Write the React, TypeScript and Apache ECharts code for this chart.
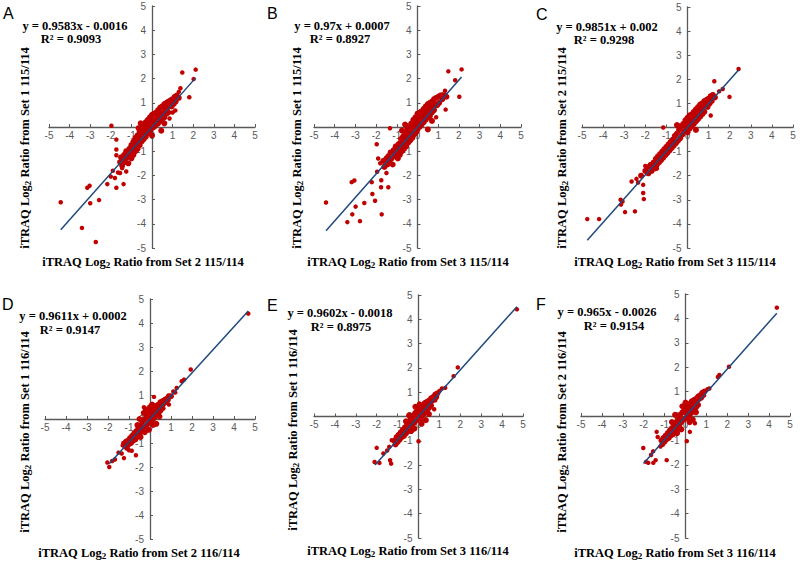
import React, { useEffect, useRef } from "react";
import * as echarts from "echarts";

const panelLetters = ["A", "B", "C", "D", "E", "F"];
const equations = [
  "y = 0.9583x - 0.0016",
  "y = 0.97x + 0.0007",
  "y = 0.9851x + 0.002",
  "y = 0.9611x + 0.0002",
  "y = 0.9602x - 0.0018",
  "y = 0.965x - 0.0026",
];
const rSquared = ["R² = 0.9093", "R² = 0.8927", "R² = 0.9298", "R² = 0.9147", "R² = 0.8975", "R² = 0.9154"];
const slopes = [0.9583, 0.97, 0.9851, 0.9611, 0.9602, 0.965];
const intercepts = [-0.0016, 0.0007, 0.002, 0.0002, -0.0018, -0.0026];
const lineStartX = [-4.43, -4.42, -4.75, -1.94, -2.08, -2.01];
const lineEndX = [2.12, 2.13, 2.42, 4.68, 4.71, 4.37];
const xSets = ["2", "3", "3", "2", "3", "3"];
const ySets = ["1", "1", "2", "1", "1", "2"];
const ratios = ["115/114", "115/114", "115/114", "116/114", "116/114", "116/114"];
const axisMin = -5;
const axisMax = 5;
const axisStep = 1;

const outA = [[2.12,2.37],[1.47,2.25],[2.02,1.98],[1.38,1.6],[1.81,1.23],[1.13,0.68],[1.3,1.45],[-1.97,0.05],[-1.73,-0.52],[-1.73,-0.93],[-4.43,-3.11],[-3.14,-2.51],[-3.03,-2.43],[-3.0,-3.15],[-2.57,-3.02],[-3.4,-4.17],[-2.73,-4.75],[-2.17,-2.36],[-1.8,-2.11],[-1.73,-2.51],[-1.38,-2.36],[-1.9,-1.81],[-1.65,-1.88],[-1.25,-1.84],[-1.28,-1.47],[-2.0,-2.05],[-1.55,-1.9],[-1.45,-1.7],[0.85,0.35],[1.0,0.6],[-1.73,-1.17],[-1.5,-1.3]];
const outB = [[2.13,2.38],[1.49,2.3],[1.82,1.93],[2.02,1.25],[1.36,0.72],[1.33,1.5],[1.2,1.35],[-4.42,-3.12],[-3.18,-2.28],[-3.05,-2.21],[-2.99,-3.29],[-3.15,-3.61],[-3.39,-3.93],[-2.78,-3.89],[-2.57,-3.14],[-2.18,-2.77],[-2.21,-2.28],[-2.05,-3.05],[-1.73,-3.61],[-1.76,-2.49],[-1.41,-2.49],[-1.97,-0.71],[-1.33,-0.05],[-1.95,-1.85],[-1.75,-2.2],[-1.6,-1.6],[-1.5,-1.9],[-1.8,-1.5],[-1.9,-1.3],[0.9,0.4]];
const outC = [[2.42,2.43],[1.27,1.92],[1.99,1.27],[1.67,1.6],[1.5,1.5],[1.2,1.35],[-1.15,0.0],[-4.75,-3.8],[-4.19,-3.8],[-3.17,-3.0],[-3.08,-3.07],[-2.96,-3.51],[-2.49,-3.48],[-2.42,-2.13],[-2.34,-2.28],[-2.1,-2.72],[-2.07,-2.97],[-2.1,-2.38],[-2.65,-2.24],[-3.15,-3.2],[-1.9,-1.9],[-2.0,-1.6],[-1.7,-1.75],[-1.6,-1.45],[-1.45,-1.7],[1.1,0.5]];
const outD = [[4.68,4.39],[1.94,2.06],[1.51,1.57],[1.62,1.64],[1.11,1.15],[1.27,1.29],[1.2,1.1],[0.19,0.92],[-0.29,0.49],[-1.94,-2.0],[-2.03,-1.81],[-1.67,-1.69],[-1.35,-1.44],[-1.24,-1.63],[-0.67,-1.51],[-0.87,-1.32],[-1.27,-1.0],[-1.5,-1.4],[-1.8,-1.75],[0.9,0.6],[-1.3,-1.1],[-1.0,-1.3]];
const outE = [[4.71,4.41],[1.88,2.02],[1.68,1.66],[1.28,1.18],[1.12,1.15],[0.8,0.67],[0.0,-1.02],[-2.0,-1.29],[-1.87,-1.91],[-2.1,-1.87],[-1.36,-1.8],[-1.31,-1.94],[-1.28,-0.98],[-1.68,-1.52],[-1.5,-1.4],[-1.4,-1.25],[1.0,1.05],[0.75,0.3]];
const outF = [[4.37,4.44],[2.08,2.02],[1.62,1.68],[1.55,1.6],[1.14,1.13],[1.05,1.1],[0.06,-1.03],[0.21,-0.65],[-2.02,-1.31],[-1.78,-1.92],[-1.89,-1.88],[-1.54,-1.92],[-1.43,-1.81],[-0.9,-1.81],[-1.38,-0.65],[-1.33,-0.86],[-1.55,-1.45],[-1.2,-1.25],[-1.65,-1.6],[0.45,-0.3]];

const coreA = [[-1.55,-1.45],[-1.5,-1.25],[-1.45,-1.6],[-1.4,-1.35],[-1.35,-1.15],[-1.3,-1.45],[-1.25,-1.0],[-1.2,-1.25],[-1.15,-1.5],[-1.1,-0.9],[-1.05,-1.15],[-1.0,-0.75],[-1.0,-1.3],[-0.95,-0.95],[-0.9,-0.6],[-0.9,-1.15],[-0.85,-0.85],[-0.8,-0.45],[-0.8,-1.0],[-0.75,-0.7],[-0.7,-0.35],[-0.7,-0.9],[-0.65,-0.55],[-0.6,-0.2],[-0.6,-0.75],[-0.55,-0.4],[-0.5,-0.05],[-0.5,-0.6],[-0.45,-0.3],[-0.4,0.05],[-0.4,-0.5],[-0.35,-0.15],[-0.3,0.2],[-0.3,-0.4],[-0.25,0.0],[-0.2,0.3],[-0.2,-0.25],[-0.15,0.1],[-0.1,0.4],[-0.1,-0.15],[-0.05,0.2],[0.0,0.5],[0.0,-0.05],[0.0,-0.35],[0.05,0.25],[0.1,0.55],[0.1,0.0],[0.15,0.3],[0.2,0.6],[0.2,0.1],[0.25,0.4],[0.3,0.7],[0.3,0.15],[0.35,0.45],[0.4,0.8],[0.4,0.25],[0.45,0.55],[0.5,0.85],[0.5,0.35],[0.55,0.6],[0.6,0.95],[0.6,0.4],[0.65,0.7],[0.7,1.0],[0.7,0.55],[0.75,0.8],[0.8,1.05],[0.8,0.6],[0.85,0.9],[0.9,1.1],[0.95,0.85],[1.0,1.15],[1.05,0.95],[1.1,1.25],[1.15,1.05],[1.2,1.3],[1.3,1.2],[-0.55,0.15],[0.45,-0.15],[0.6,0.15],[-0.65,-0.05]];
const coreB = [[-1.65,-1.4],[-1.6,-1.65],[-1.5,-1.3],[-1.45,-1.55],[-1.4,-1.2],[-1.35,-1.45],[-1.3,-1.05],[-1.25,-1.3],[-1.2,-1.55],[-1.15,-0.95],[-1.1,-1.2],[-1.05,-0.8],[-1.0,-1.05],[-0.95,-1.3],[-0.9,-0.7],[-0.9,-0.95],[-0.85,-1.15],[-0.8,-0.5],[-0.8,-0.8],[-0.75,-1.0],[-0.7,-0.4],[-0.7,-0.7],[-0.65,-0.9],[-0.6,-0.25],[-0.6,-0.55],[-0.55,-0.8],[-0.5,-0.1],[-0.5,-0.45],[-0.45,-0.65],[-0.4,0.0],[-0.4,-0.3],[-0.35,-0.55],[-0.3,0.15],[-0.3,-0.2],[-0.25,-0.45],[-0.2,0.3],[-0.2,0.0],[-0.15,-0.3],[-0.1,0.4],[-0.1,0.1],[-0.05,-0.2],[0.0,0.55],[0.0,0.2],[0.0,-0.1],[0.05,0.35],[0.1,0.6],[0.1,0.0],[0.15,0.25],[0.2,0.65],[0.2,0.1],[0.25,0.45],[0.3,0.75],[0.3,0.2],[0.35,0.5],[0.4,0.85],[0.4,0.3],[0.45,0.6],[0.5,0.95],[0.5,0.4],[0.55,0.7],[0.6,1.0],[0.6,0.45],[0.65,0.8],[0.7,1.05],[0.7,0.6],[0.75,0.85],[0.8,1.15],[0.8,0.7],[0.85,0.95],[0.9,1.2],[0.95,0.9],[1.0,1.25],[1.05,1.0],[1.1,1.3],[1.2,1.15],[1.3,1.3],[1.4,1.25],[-0.6,0.1],[0.5,-0.1],[0.7,0.25],[-0.75,-0.15]];
const coreC = [[-2.0,-1.8],[-1.9,-1.65],[-1.85,-1.9],[-1.75,-1.55],[-1.7,-1.8],[-1.6,-1.45],[-1.55,-1.7],[-1.5,-1.3],[-1.45,-1.55],[-1.4,-1.2],[-1.35,-1.45],[-1.3,-1.1],[-1.25,-1.35],[-1.2,-1.0],[-1.15,-1.25],[-1.1,-0.9],[-1.05,-1.15],[-1.0,-0.8],[-0.95,-1.05],[-0.9,-0.7],[-0.85,-0.95],[-0.8,-0.6],[-0.75,-0.85],[-0.7,-0.5],[-0.65,-0.75],[-0.6,-0.35],[-0.55,-0.65],[-0.5,-0.25],[-0.45,-0.55],[-0.4,-0.1],[-0.35,-0.45],[-0.3,0.05],[-0.25,-0.3],[-0.2,0.15],[-0.15,-0.15],[-0.1,0.3],[-0.05,0.0],[0.0,0.4],[0.0,-0.2],[0.05,0.15],[0.1,0.5],[0.1,-0.05],[0.15,0.3],[0.2,0.55],[0.2,0.05],[0.25,0.35],[0.3,0.65],[0.3,0.15],[0.35,0.45],[0.4,0.75],[0.4,0.25],[0.45,0.55],[0.5,0.85],[0.5,0.35],[0.55,0.65],[0.6,0.95],[0.6,0.45],[0.65,0.75],[0.7,1.0],[0.7,0.55],[0.75,0.85],[0.8,1.1],[0.8,0.65],[0.85,0.95],[0.9,1.15],[0.95,0.85],[1.0,1.2],[1.05,1.0],[1.1,1.3],[1.15,1.1],[1.2,1.35],[1.3,1.25],[-0.5,0.1],[0.4,-0.1],[-2.2,-2.0]];
const coreD = [[-1.2,-1.1],[-1.15,-0.95],[-1.1,-1.2],[-1.05,-0.9],[-1.0,-1.05],[-0.95,-0.8],[-0.9,-1.0],[-0.85,-0.7],[-0.8,-0.9],[-0.75,-0.6],[-0.7,-0.85],[-0.65,-0.5],[-0.6,-0.75],[-0.55,-0.35],[-0.5,-0.65],[-0.45,-0.25],[-0.4,-0.5],[-0.35,-0.1],[-0.3,-0.4],[-0.25,0.0],[-0.2,-0.3],[-0.15,0.1],[-0.1,-0.2],[-0.05,0.25],[0.0,-0.1],[0.0,0.35],[0.05,0.1],[0.1,0.4],[0.1,-0.05],[0.15,0.2],[0.2,0.45],[0.2,0.05],[0.25,0.3],[0.3,0.55],[0.3,0.15],[0.35,0.4],[0.4,0.6],[0.4,0.25],[0.45,0.5],[0.5,0.7],[0.5,0.35],[0.55,0.55],[0.6,0.75],[0.6,0.45],[0.65,0.65],[0.7,0.8],[0.75,0.7],[0.8,0.85],[0.85,0.8],[0.9,0.95],[1.0,0.95],[-0.5,0.0],[0.3,-0.2],[-0.3,0.25],[-0.45,-0.75],[-0.2,0.4],[0.0,0.5],[0.15,-0.25],[-0.25,-0.55],[0.45,0.1],[-0.6,-0.25],[0.1,0.6],[-0.05,-0.45]];
const coreE = [[-1.15,-1.0],[-1.1,-1.15],[-1.05,-0.85],[-1.0,-1.05],[-0.95,-0.75],[-0.9,-0.95],[-0.85,-0.65],[-0.8,-0.85],[-0.75,-0.55],[-0.7,-0.8],[-0.65,-0.45],[-0.6,-0.7],[-0.55,-0.3],[-0.5,-0.6],[-0.45,-0.2],[-0.4,-0.45],[-0.35,-0.1],[-0.3,-0.35],[-0.25,0.05],[-0.2,-0.25],[-0.15,0.15],[-0.1,-0.15],[-0.05,0.25],[0.0,-0.05],[0.0,0.35],[0.05,0.1],[0.1,0.4],[0.1,-0.1],[0.15,0.2],[0.2,0.45],[0.2,0.05],[0.25,0.3],[0.3,0.55],[0.3,0.15],[0.35,0.4],[0.4,0.6],[0.4,0.25],[0.45,0.5],[0.5,0.65],[0.5,0.35],[0.55,0.55],[0.6,0.75],[0.6,0.45],[0.65,0.65],[0.7,0.8],[0.75,0.7],[0.8,0.9],[0.85,0.8],[0.9,0.95],[-0.45,0.05],[0.35,-0.15],[-0.35,-0.6],[-0.15,0.4],[0.05,0.5],[0.15,-0.3],[-0.2,-0.5],[0.5,0.1],[-0.6,-0.2]];
const coreF = [[-1.15,-1.0],[-1.1,-1.15],[-1.05,-0.9],[-1.0,-1.05],[-0.95,-0.8],[-0.9,-0.95],[-0.85,-0.7],[-0.8,-0.9],[-0.75,-0.6],[-0.7,-0.8],[-0.65,-0.5],[-0.6,-0.75],[-0.55,-0.35],[-0.5,-0.6],[-0.45,-0.25],[-0.4,-0.5],[-0.35,-0.1],[-0.3,-0.4],[-0.25,0.05],[-0.2,-0.25],[-0.15,0.15],[-0.1,-0.15],[-0.05,0.25],[0.0,-0.1],[0.0,0.4],[0.05,0.1],[0.1,0.45],[0.1,-0.05],[0.15,0.25],[0.2,0.5],[0.2,0.05],[0.25,0.3],[0.3,0.6],[0.3,0.15],[0.35,0.45],[0.4,0.65],[0.4,0.25],[0.45,0.5],[0.5,0.7],[0.5,0.35],[0.55,0.6],[0.6,0.8],[0.6,0.45],[0.65,0.7],[0.7,0.85],[0.75,0.75],[0.8,0.95],[0.85,0.85],[0.9,1.0],[-0.5,0.05],[0.35,-0.15],[-0.4,-0.7],[-0.15,0.4],[0.0,0.55],[0.2,-0.25],[-0.2,-0.55],[0.5,0.15],[-0.65,-0.25]];

const outliers = [outA, outB, outC, outD, outE, outF];
const cores = [coreA, coreB, coreC, coreD, coreE, coreF];

// layout (pixels)
const grids = [
  { left: 49, top: 6, width: 206, height: 242 },
  { left: 314, top: 6, width: 207, height: 242 },
  { left: 582, top: 7, width: 211, height: 241 },
  { left: 45, top: 299, width: 210, height: 240 },
  { left: 314, top: 295, width: 209, height: 243 },
  { left: 581, top: 294, width: 209, height: 244 },
];
const letterPos = [[3, 5], [267, 5], [536, 6], [2, 296], [267, 297], [536, 296]];
const eqPos = [[75, 26], [342, 26], [607, 27], [73, 316], [340, 313], [607, 312]];
const r2Pos = [[71, 39], [340, 39], [604, 40], [70, 330], [341, 327], [614, 326]];
const xTitlePos = [[143, 262], [408, 262], [675, 262], [139, 553], [408, 551], [675, 553]];
const yTitlePos = [[25, 148], [297, 148], [562, 148], [25, 432], [293, 430], [562, 432]];

const AXIS_COLOR = "#595959";
const POINT_COLOR = "#c00000";
const LINE_COLOR = "#1f497d";
const SERIF = '"Liberation Serif", "Times New Roman", serif';
const SANS = '"Liberation Sans", Arial, sans-serif';

function axisCommon(i: number, isX: boolean) {
  const g = grids[i];
  const span = axisMax - axisMin;
  // place each axis line where the other axis has value 0
  const offset = isX ? -g.height * ((0 - axisMin) / span) : -g.width * ((0 - axisMin) / span);
  return {
    gridIndex: i,
    type: "value",
    position: isX ? "bottom" : "left",
    offset,
    min: axisMin,
    max: axisMax,
    interval: axisStep,
    splitLine: { show: false },
    axisLine: { show: true, onZero: false, lineStyle: { color: AXIS_COLOR, width: 1.3 } },
    axisTick: { show: true, inside: true, length: 3, lineStyle: { color: AXIS_COLOR, width: 1 } },
    axisLabel: { fontSize: 10, color: AXIS_COLOR, fontFamily: SANS, margin: isX ? 3 : 6 },
  };
}

function titleText(set: string, ratio: string) {
  return `iTRAQ Log{s|2} Ratio from Set ${set} ${ratio}`;
}

const titleStyleBase = {
  fontFamily: SERIF,
  fontWeight: "bold",
  fontSize: 12.5,
  fill: "#000",
  align: "center",
  verticalAlign: "middle",
  lineHeight: 14,
  rich: {
    s: { fontFamily: SERIF, fontWeight: "bold", fontSize: 9, lineHeight: 14, verticalAlign: "bottom", padding: [4, 0, 0, 0], fill: "#000" },
  },
};

export default function App() {
  const ref = useRef<HTMLDivElement>(null);
  useEffect(() => {
    if (!ref.current) return;
    const chart = echarts.init(ref.current, null, { renderer: "svg" });
    const series: any[] = [];
    const graphic: any[] = [];
    for (let i = 0; i < 6; i++) {
      series.push({
        type: "scatter",
        xAxisIndex: i,
        yAxisIndex: i,
        data: cores[i],
        symbolSize: 6,
        itemStyle: { color: POINT_COLOR, opacity: 1 },
        z: 2,
      });
      series.push({
        type: "scatter",
        xAxisIndex: i,
        yAxisIndex: i,
        data: outliers[i],
        symbolSize: 4.5,
        itemStyle: { color: POINT_COLOR, opacity: 1 },
        z: 2,
      });
      const x0 = lineStartX[i];
      const x1 = lineEndX[i];
      series.push({
        type: "line",
        xAxisIndex: i,
        yAxisIndex: i,
        data: [
          [x0, slopes[i] * x0 + intercepts[i]],
          [x1, slopes[i] * x1 + intercepts[i]],
        ],
        showSymbol: false,
        symbol: "none",
        lineStyle: { color: LINE_COLOR, width: 1.5 },
        z: 3,
      });
      graphic.push({
        type: "text",
        x: letterPos[i][0],
        y: letterPos[i][1],
        style: { text: panelLetters[i], fontFamily: SANS, fontSize: 16, fill: "#000", align: "left", verticalAlign: "top" },
      });
      graphic.push({
        type: "text",
        x: eqPos[i][0],
        y: eqPos[i][1],
        style: { text: equations[i], fontFamily: SERIF, fontWeight: "bold", fontSize: 12.5, lineHeight: 12, fill: "#000", align: "center", verticalAlign: "middle" },
      });
      graphic.push({
        type: "text",
        x: r2Pos[i][0],
        y: r2Pos[i][1],
        style: { text: rSquared[i], fontFamily: SERIF, fontWeight: "bold", fontSize: 12.5, lineHeight: 12, fill: "#000", align: "center", verticalAlign: "middle" },
      });
      graphic.push({
        type: "text",
        x: xTitlePos[i][0],
        y: xTitlePos[i][1],
        style: { ...titleStyleBase, text: titleText(xSets[i], ratios[i]) },
      });
      graphic.push({
        type: "text",
        x: yTitlePos[i][0],
        y: yTitlePos[i][1],
        rotation: Math.PI / 2,
        style: { ...titleStyleBase, text: titleText(ySets[i], ratios[i]) },
      });
    }
    chart.setOption({
      animation: false,
      backgroundColor: "#fff",
      grid: grids.map((g) => ({ ...g, containLabel: false, outerBoundsMode: "none" })),
      xAxis: grids.map((_, i) => axisCommon(i, true)),
      yAxis: grids.map((_, i) => axisCommon(i, false)),
      series,
      graphic,
    });
    return () => chart.dispose();
  }, []);
  return (
    <div
      ref={ref}
      style={{ position: "fixed", left: 0, top: 0, width: 800, height: 564, background: "#fff" }}
    />
  );
}
